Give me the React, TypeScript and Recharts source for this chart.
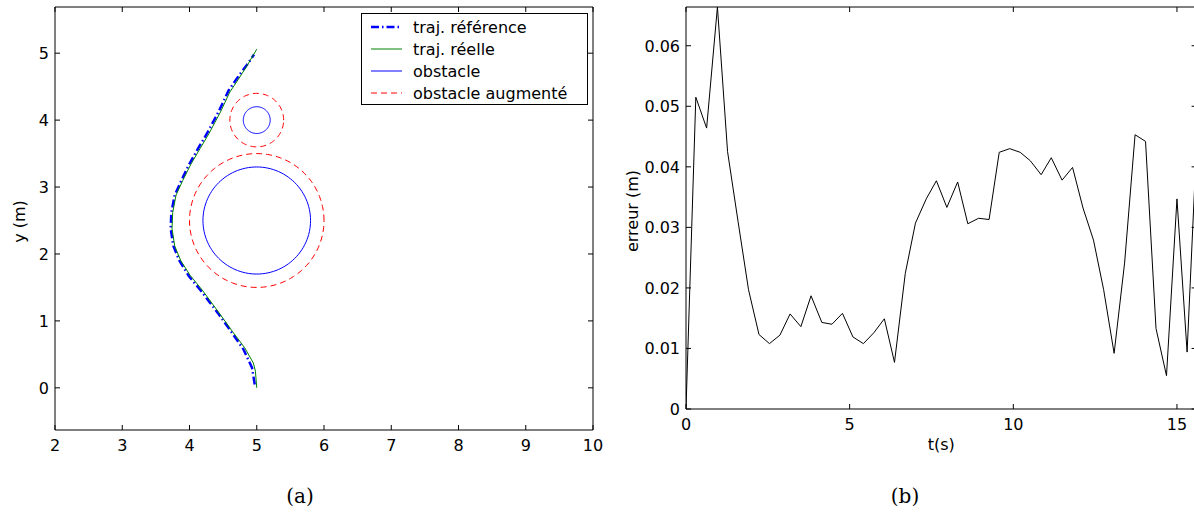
import React from "react";
import { ComposedChart, Line, XAxis, YAxis, Legend } from "recharts";

// ---- panel (a): trajectories around obstacles ----
const refX = [4.97, 4.93, 4.8, 4.62, 4.42, 4.17, 3.99, 3.85, 3.76, 3.72, 3.73, 3.78, 3.88, 3.99, 4.13, 4.26, 4.43, 4.58, 4.73, 4.85, 4.96];
const refY = [0.05, 0.3, 0.58, 0.84, 1.12, 1.45, 1.67, 1.9, 2.12, 2.38, 2.62, 2.88, 3.1, 3.33, 3.58, 3.8, 4.12, 4.44, 4.66, 4.82, 4.98];
const realX = [5.0, 4.98, 4.95, 4.82, 4.64, 4.44, 4.19, 4.01, 3.87, 3.78, 3.74, 3.75, 3.8, 3.9, 4.02, 4.16, 4.29, 4.46, 4.6, 4.72, 4.86, 5.0];
const realY = [0.0, 0.25, 0.37, 0.6, 0.84, 1.12, 1.46, 1.68, 1.9, 2.12, 2.38, 2.62, 2.88, 3.1, 3.34, 3.58, 3.8, 4.12, 4.42, 4.6, 4.82, 5.06];

const obstacleCx = [5, 5];
const obstacleCy = [2.5, 4];
const obstacleR = [0.8, 0.2];
const safetyMargin = 0.2;

const xTicksA = [2, 3, 4, 5, 6, 7, 8, 9, 10];
const yTicksA = [0, 1, 2, 3, 4, 5];

// ---- panel (b): tracking error ----
const times = [
  0, 0.3, 0.63, 0.96, 1.27, 1.59, 1.91, 2.23, 2.55, 2.87, 3.18, 3.51, 3.82, 4.15, 4.46, 4.78, 5.1,
  5.42, 5.74, 6.06, 6.37, 6.7, 7.01, 7.34, 7.65, 7.97, 8.3, 8.61, 8.94, 9.26, 9.57, 9.89, 10.21,
  10.52, 10.85, 11.16, 11.49, 11.81, 12.13, 12.45, 12.76, 13.08, 13.4, 13.72, 14.04, 14.36, 14.68,
  15.0, 15.31, 15.6,
];
const errors = [
  0, 0.0515, 0.0464, 0.0664, 0.0425, 0.031, 0.0197, 0.0123, 0.0108, 0.0122, 0.0157, 0.0136, 0.0187,
  0.0143, 0.014, 0.0158, 0.0119, 0.0108, 0.0126, 0.0149, 0.0077, 0.0224, 0.0307, 0.0347, 0.0377,
  0.0333, 0.0375, 0.0306, 0.0315, 0.0313, 0.0424, 0.043, 0.0424, 0.041, 0.0387, 0.0415, 0.0378,
  0.0399, 0.0332, 0.0279, 0.0197, 0.0092, 0.0241, 0.0453, 0.0442, 0.0133, 0.0055, 0.0347, 0.0094,
  0.044,
];
const tTicks = [0, 5, 10, 15];
const errTicks = [0, 0.01, 0.02, 0.03, 0.04, 0.05, 0.06];

const FONT = "'DejaVu Sans', sans-serif";

const STYLE: Record<string, { stroke: string; width: number; dash?: string }> = {
  "traj. référence": { stroke: "#0000ff", width: 2.5, dash: "8 3 1.5 3" },
  "traj. réelle": { stroke: "#008000", width: 1 },
  obstacle: { stroke: "#0000ff", width: 1 },
  "obstacle augmenté": { stroke: "#ff0000", width: 1, dash: "6 4" },
};
const legendNames = ["traj. référence", "traj. réelle", "obstacle", "obstacle augmenté"];

const refData = refX.map((x, i) => ({ x, y: refY[i] }));
const realData = realX.map((x, i) => ({ x, y: realY[i] }));
const errData = times.map((t, i) => ({ t, err: errors[i] }));

function circle(cx: number, cy: number, r: number) {
  const pts = [];
  for (let i = 0; i <= 120; i++) {
    const a = (i / 120) * 2 * Math.PI;
    pts.push({ x: cx + r * Math.cos(a), y: cy + r * Math.sin(a) });
  }
  return pts;
}

type Side = "bottom" | "top" | "left" | "right";
const TICK_LEN = 5;

function tickRenderer(side: Side, fmt?: (v: number) => string) {
  return (props: any) => {
    const { x, y, payload } = props;
    let x2 = x;
    let y2 = y;
    if (side === "bottom") y2 = y - TICK_LEN;
    if (side === "top") y2 = y + TICK_LEN;
    if (side === "left") x2 = x + TICK_LEN;
    if (side === "right") x2 = x - TICK_LEN;
    return (
      <g>
        <line x1={x} y1={y} x2={x2} y2={y2} stroke="#000" strokeWidth={1} />
        {fmt && side === "bottom" && (
          <text x={x} y={y + 21} textAnchor="middle" fontFamily={FONT} fontSize={16} fill="#000">
            {fmt(payload.value)}
          </text>
        )}
        {fmt && side === "left" && (
          <text x={x - 6} y={y + 6} textAnchor="end" fontFamily={FONT} fontSize={16} fill="#000">
            {fmt(payload.value)}
          </text>
        )}
      </g>
    );
  };
}

const yLabel = (text: string, dx: number, dy: number) => (props: any) => {
  const { x, y, height } = props.viewBox;
  const cx = x + dx;
  const cy = y + height / 2 + dy;
  return (
    <text x={cx} y={cy} transform={`rotate(-90 ${cx} ${cy})`} textAnchor="middle" fontFamily={FONT} fontSize={16} fill="#000">
      {text}
    </text>
  );
};

const xLabel = (text: string, dy: number) => (props: any) => {
  const { x, y, width } = props.viewBox;
  return (
    <text x={x + width / 2} y={y + dy} textAnchor="middle" fontFamily={FONT} fontSize={16} fill="#000">
      {text}
    </text>
  );
};

const axisLine = { stroke: "#000", strokeWidth: 1 };
const num = (v: number) => String(v);
const err = (v: number) => (v === 0 ? "0" : v.toFixed(2));

function LegendBox() {
  return (
    <svg width={227} height={92} style={{ display: "block" }}>
      <rect x={0.5} y={0.5} width={226} height={91} fill="#fff" stroke="#000" strokeWidth={1} />
      {legendNames.map((name, i) => {
        const s = STYLE[name];
        const cy = 14 + 22 * i;
        return (
          <g key={name}>
            <line x1={10} y1={cy} x2={41} y2={cy} stroke={s.stroke} strokeWidth={s.width} strokeDasharray={s.dash} />
            <text x={52} y={cy + 6} fontFamily={FONT} fontSize={16} fill="#000">
              {name}
            </text>
          </g>
        );
      })}
    </svg>
  );
}

function TrajectoryChart() {
  return (
    <ComposedChart width={620} height={512} data={realData} margin={{ top: 6, right: 26, bottom: 52, left: 0 }}>
      <XAxis
        xAxisId={0}
        type="number"
        dataKey="x"
        domain={[2, 10]}
        ticks={xTicksA}
        interval={0}
        allowDataOverflow
        height={30}
        axisLine={axisLine}
        tickLine={false}
        tickSize={0}
        tickMargin={0}
        tick={tickRenderer("bottom", num)}
      />
      <XAxis
        xAxisId="top"
        orientation="top"
        type="number"
        dataKey="x"
        domain={[2, 10]}
        ticks={xTicksA}
        interval={0}
        allowDataOverflow
        height={1}
        axisLine={axisLine}
        tickLine={false}
        tickSize={0}
        tickMargin={0}
        tick={tickRenderer("top")}
      />
      <YAxis
        yAxisId={0}
        type="number"
        dataKey="y"
        domain={[-0.63, 5.69]}
        ticks={yTicksA}
        interval={0}
        allowDataOverflow
        width={55}
        axisLine={axisLine}
        tickLine={false}
        tickSize={0}
        tickMargin={0}
        tick={tickRenderer("left", num)}
        label={yLabel("y (m)", 25, 3)}
      />
      <YAxis
        yAxisId="right"
        orientation="right"
        type="number"
        dataKey="y"
        domain={[-0.63, 5.69]}
        ticks={yTicksA}
        interval={0}
        allowDataOverflow
        width={1}
        axisLine={axisLine}
        tickLine={false}
        tickSize={0}
        tickMargin={0}
        tick={tickRenderer("right")}
      />
      {obstacleCx.map((cx, i) => (
        <Line
          key={`obs-${i}`}
          name="obstacle"
          data={circle(cx, obstacleCy[i], obstacleR[i])}
          dataKey="y"
          type="linear"
          stroke={STYLE.obstacle.stroke}
          strokeWidth={STYLE.obstacle.width}
          dot={false}
          activeDot={false}
          isAnimationActive={false}
        />
      ))}
      {obstacleCx.map((cx, i) => (
        <Line
          key={`aug-${i}`}
          name="obstacle augmenté"
          data={circle(cx, obstacleCy[i], obstacleR[i] + safetyMargin)}
          dataKey="y"
          type="linear"
          stroke={STYLE["obstacle augmenté"].stroke}
          strokeWidth={STYLE["obstacle augmenté"].width}
          strokeDasharray={STYLE["obstacle augmenté"].dash}
          dot={false}
          activeDot={false}
          isAnimationActive={false}
        />
      ))}
      <Line
        name="traj. référence"
        data={refData}
        dataKey="y"
        type="linear"
        stroke={STYLE["traj. référence"].stroke}
        strokeWidth={STYLE["traj. référence"].width}
        strokeDasharray={STYLE["traj. référence"].dash}
        dot={false}
        activeDot={false}
        isAnimationActive={false}
      />
      <Line
        name="traj. réelle"
        dataKey="y"
        type="linear"
        stroke={STYLE["traj. réelle"].stroke}
        strokeWidth={STYLE["traj. réelle"].width}
        dot={false}
        activeDot={false}
        isAnimationActive={false}
      />
      <Legend
        layout="horizontal"
        verticalAlign="middle"
        align="center"
        wrapperStyle={{ left: 361, top: 13, width: 227, height: 92 }}
        content={() => <LegendBox />}
      />
    </ComposedChart>
  );
}

function ErrorChart() {
  return (
    <ComposedChart width={620} height={512} data={errData} margin={{ top: 6, right: 22.4, bottom: 73, left: 0 }}>
      <XAxis
        xAxisId={0}
        type="number"
        dataKey="t"
        domain={[0, 15.6]}
        ticks={tTicks}
        interval={0}
        allowDataOverflow
        height={30}
        axisLine={axisLine}
        tickLine={false}
        tickSize={0}
        tickMargin={0}
        tick={tickRenderer("bottom", num)}
        label={xLabel("t(s)", 41)}
      />
      <XAxis
        xAxisId="top"
        orientation="top"
        type="number"
        dataKey="t"
        domain={[0, 15.6]}
        ticks={tTicks}
        interval={0}
        allowDataOverflow
        height={1}
        axisLine={axisLine}
        tickLine={false}
        tickSize={0}
        tickMargin={0}
        tick={tickRenderer("top")}
      />
      <YAxis
        yAxisId={0}
        type="number"
        dataKey="err"
        domain={[0, 0.0664]}
        ticks={errTicks}
        interval={0}
        allowDataOverflow
        width={86}
        axisLine={axisLine}
        tickLine={false}
        tickSize={0}
        tickMargin={0}
        tick={tickRenderer("left", err)}
        label={yLabel("erreur (m)", 38, 3)}
      />
      <YAxis
        yAxisId="right"
        orientation="right"
        type="number"
        dataKey="err"
        domain={[0, 0.0664]}
        ticks={errTicks}
        interval={0}
        allowDataOverflow
        width={1}
        axisLine={axisLine}
        tickLine={false}
        tickSize={0}
        tickMargin={0}
        tick={tickRenderer("right")}
      />
      <Line
        dataKey="err"
        type="linear"
        stroke="#000"
        strokeWidth={1}
        dot={false}
        activeDot={false}
        isAnimationActive={false}
      />
    </ComposedChart>
  );
}

const caption: React.CSSProperties = {
  position: "absolute",
  top: 483,
  width: 100,
  textAlign: "center",
  fontFamily: "'DejaVu Serif', serif",
  fontSize: 20,
  lineHeight: "26px",
  color: "#000",
};

export default function App() {
  return (
    <div style={{ position: "absolute", left: 0, top: 0, width: 1194, height: 512, overflow: "hidden", background: "#fff" }}>
      <div style={{ position: "absolute", left: 0, top: 0 }}>
        <TrajectoryChart />
      </div>
      <div style={{ position: "absolute", left: 600, top: 0 }}>
        <ErrorChart />
      </div>
      <div style={{ ...caption, left: 250 }}>(a)</div>
      <div style={{ ...caption, left: 855 }}>(b)</div>
    </div>
  );
}
